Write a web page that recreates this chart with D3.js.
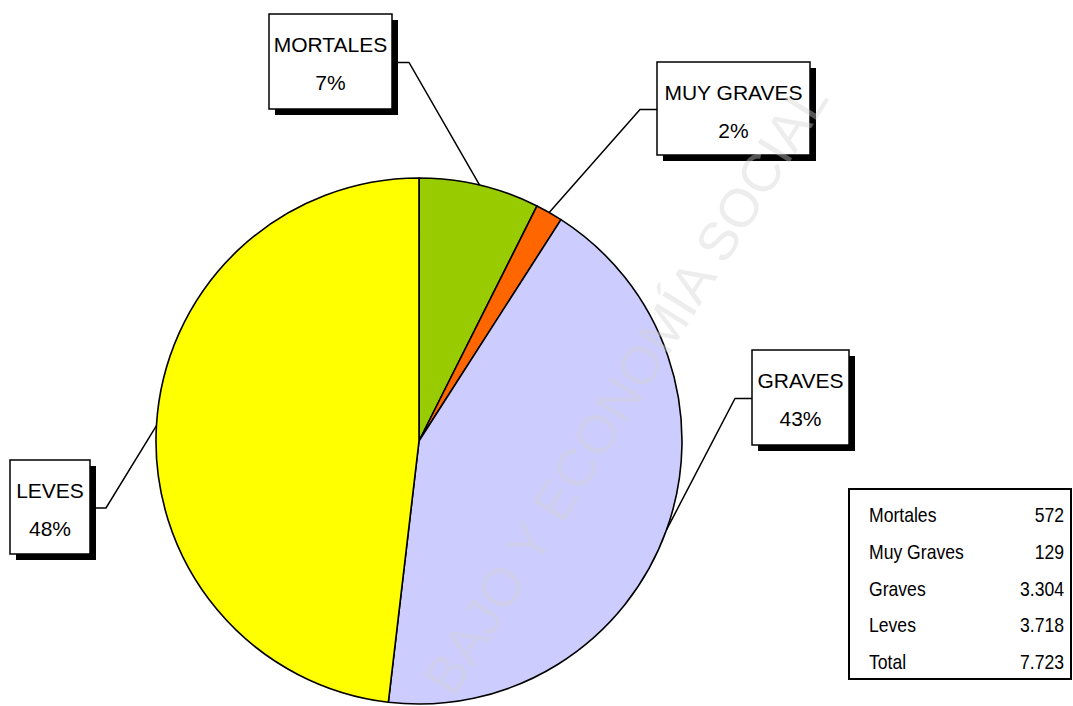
<!DOCTYPE html>
<html>
<head>
<meta charset="utf-8">
<script src="https://cdn.jsdelivr.net/npm/d3@7"></script>
<style>
  body { margin: 0; background: #fff; }
  text { font-family: "Liberation Sans", Arial, sans-serif; }
</style>
</head>
<body>
<div id="chart"></div>
<script>
// data
var categories = ["MORTALES", "MUY GRAVES", "GRAVES", "LEVES"];
var tableNames = ["Mortales", "Muy Graves", "Graves", "Leves", "Total"];
var values = [572, 129, 3304, 3718];
var tableValues = ["572", "129", "3.304", "3.718", "7.723"];
var colors = ["#99CC00", "#FF6600", "#CCCCFF", "#FFFF00"];

var width = 1073, height = 706;
var cx = 419, cy = 441, radius = 263;

// label boxes: [x, y, w, h, elbowX]
var boxes = [
  [269, 14, 123, 95, 409],
  [657, 62, 153, 93, 640],
  [752, 350, 97, 95, 735],
  [10, 460, 80, 94, 106]
];

var svg = d3.select("#chart").append("svg")
  .attr("width", width)
  .attr("height", height);

var total = d3.sum(values);

var pie = d3.pie().sort(null).value(function(d) { return d; });
var arcs = pie(values);

var arc = d3.arc().innerRadius(0).outerRadius(radius);

var g = svg.append("g").attr("transform", "translate(" + cx + "," + cy + ")");

g.selectAll("path.slice")
  .data(arcs)
  .enter().append("path")
  .attr("class", "slice")
  .attr("d", arc)
  .attr("fill", function(d, i) { return colors[i]; })
  .attr("stroke", "#000")
  .attr("stroke-width", 1.6)
  .attr("stroke-linejoin", "round");

// leader lines from the middle of each slice
arcs.forEach(function(d, i) {
  var a = (d.startAngle + d.endAngle) / 2;
  var px = cx + radius * Math.sin(a);
  var py = cy - radius * Math.cos(a);
  var b = boxes[i];
  var ly = b[1] + b[3] / 2 + 1;
  // box to the right of the pie point -> attach to its left side
  var edgeX = (b[0] > px) ? b[0] : b[0] + b[2];
  svg.append("polyline")
    .attr("points", [[px, py], [b[4], ly], [edgeX, ly]].map(function(p) { return p.join(","); }).join(" "))
    .attr("fill", "none")
    .attr("stroke", "#000")
    .attr("stroke-width", 1.5);
});

// label boxes with shadow
boxes.forEach(function(b, i) {
  var lg = svg.append("g");
  lg.append("rect")
    .attr("x", b[0] + 6).attr("y", b[1] + 6)
    .attr("width", b[2]).attr("height", b[3])
    .attr("fill", "#000");
  lg.append("rect")
    .attr("x", b[0]).attr("y", b[1])
    .attr("width", b[2]).attr("height", b[3])
    .attr("fill", "#fff")
    .attr("stroke", "#000")
    .attr("stroke-width", 1.5);
  var tx = b[0] + b[2] / 2;
  lg.append("text")
    .attr("x", tx).attr("y", b[1] + 38)
    .attr("text-anchor", "middle")
    .attr("font-size", 21)
    .text(categories[i]);
  lg.append("text")
    .attr("x", tx).attr("y", b[1] + 76)
    .attr("text-anchor", "middle")
    .attr("font-size", 21)
    .text(d3.format(".0%")(values[i] / total));
});

// watermark
svg.append("text")
  .attr("transform", "translate(453,699) rotate(-57.9)")
  .attr("font-size", 54)
  .attr("fill", "#d4d4d4")
  .attr("opacity", 0.4)
  .text("BAJO Y ECONOMÍA SOCIAL");

// summary table
var tbl = svg.append("g");
tbl.append("rect")
  .attr("x", 849).attr("y", 489)
  .attr("width", 222).attr("height", 190)
  .attr("fill", "#fff")
  .attr("stroke", "#000")
  .attr("stroke-width", 2);

var rowY = d3.scalePoint().domain(tableNames).range([522, 669]);

tableNames.forEach(function(name, i) {
  tbl.append("text")
    .attr("transform", "translate(869," + rowY(name) + ") scale(0.88,1)")
    .attr("font-size", 20)
    .text(name);
  tbl.append("text")
    .attr("transform", "translate(1064," + rowY(name) + ") scale(0.88,1)")
    .attr("text-anchor", "end")
    .attr("font-size", 20)
    .text(tableValues[i]);
});
</script>
</body>
</html>
